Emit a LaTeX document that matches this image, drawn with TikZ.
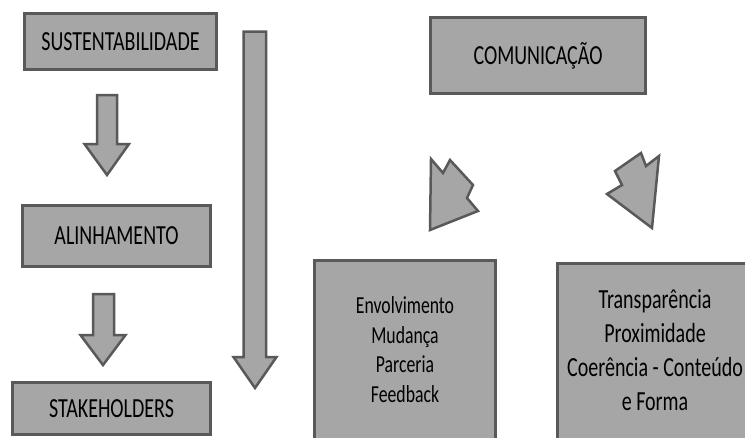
\documentclass[tikz,border=0pt]{standalone}
\usepackage{fontspec}
\setmainfont{Carlito}
\usepackage{graphicx}
\usepackage{xcolor}
\definecolor{boxfill}{HTML}{A6A6A6}
\definecolor{boxline}{HTML}{595959}
\newcommand{\tallbox}[1]{\scalebox{1}[1.38]{#1}}

\begin{document}
\begin{tikzpicture}[x=1pt, y=-1pt, box/.style={draw=boxline, fill=boxfill, line width=3pt, inner sep=0pt, align=center, font=\fontsize{20}{25}\selectfont}, blk/.style={draw=boxline, fill=boxfill, line width=2.5pt, line join=miter}]
  \clip (0,0) rectangle (745,437);
  \node[box, minimum width=192, minimum height=56] (sust) at (120.5,41.5) {\tallbox{SUSTENTABILIDADE}};
  \node[box, minimum width=188, minimum height=61] (alin) at (116.5,236) {\tallbox{ALINHAMENTO}};
  \node[box, minimum width=198, minimum height=52] (stak) at (111.5,408.5) {\tallbox{STAKEHOLDERS}};
  \node[box, minimum width=215, minimum height=76] (comu) at (538,55.5) {\tallbox{COMUNICAÇÃO}};
  \node[box, minimum width=181, minimum height=183, font=\fontsize{17.7}{21.4}\selectfont] (envo) at (405,352) {\tallbox{\begin{tabular}{@{}c@{}}Envolvimento\\Mudança\\Parceria\\Feedback\end{tabular}}};
  \node[box, minimum width=195, minimum height=179, font=\fontsize{20}{24.6}\selectfont] (tran) at (655,353) {\tallbox{\begin{tabular}{@{}c@{}}Transparência\\Proximidade\\Coerência - Conteúdo\\e Forma\end{tabular}}};
  \draw[blk] (97,95) -- (117,95) -- (117,144) -- (129,144) -- (107,175) -- (84.5,144) -- (97,144) -- cycle;
  \draw[blk] (93,294) -- (114,294) -- (114,335) -- (125.5,335) -- (103,365) -- (80.5,335) -- (93,335) -- cycle;
  \draw[blk] (243.5,31.5) -- (266,31.5) -- (266,357) -- (276.5,357) -- (255,388) -- (233.5,357) -- (243.5,357) -- cycle;
  \draw[blk] (431,159) -- (430,230) -- (478,211) -- (467,198) -- (473,185) -- (450,160) -- (443,173) -- cycle;
  \draw[blk] (659,156) -- (652,228) -- (607,194) -- (622,185) -- (615,171) -- (641,153) -- (646,166) -- cycle;
\end{tikzpicture}
\end{document}
